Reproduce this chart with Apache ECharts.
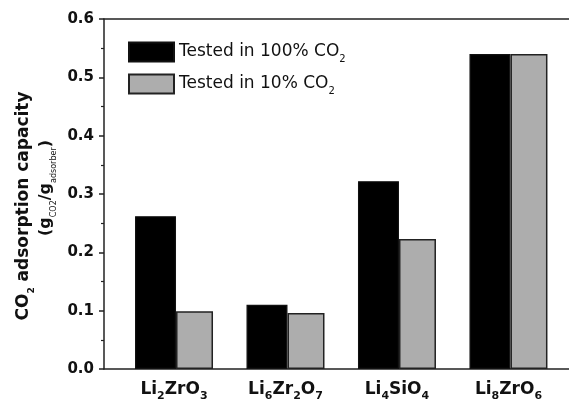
<!DOCTYPE html>
<html>
<head>
<meta charset="utf-8">
<script src="https://cdn.jsdelivr.net/npm/echarts@6/dist/echarts.min.js"></script>
<style>html,body{margin:0;padding:0;background:#fff}#c{width:569px;height:401px}</style>
</head>
<body>
<div id="c"></div>
<script>
// Data
const categories = ['Li{s|2}ZrO{s|3}', 'Li{s|6}Zr{s|2}O{s|7}', 'Li{s|4}SiO{s|4}', 'Li{s|8}ZrO{s|6}'];
const categoryPositions = [1, 2, 3, 4];
const tested100 = [0.262, 0.110, 0.322, 0.540];
const tested10 = [0.099, 0.096, 0.223, 0.540];
const seriesNames = ['Tested in 100% CO{s|2}', 'Tested in 10% CO{s|2}'];
const yTicks = [0, 0.1, 0.2, 0.3, 0.4, 0.5, 0.6];

const FONT = 'DejaVu Sans';
const chart = echarts.init(document.getElementById('c'), null, {renderer: 'canvas'});

const catRich = {
  m: {fontFamily: FONT, fontWeight: 'bold', fontSize: 17, color: '#111', lineHeight: 20},
  s: {fontFamily: FONT, fontWeight: 'bold', fontSize: 11, color: '#111', lineHeight: 11, padding: [13, 0, 0, 0]}
};
function catLabel(v) {
  const i = categoryPositions.indexOf(Math.round(v));
  if (i < 0) return '';
  return categories[i].replace(/(^|\})([^{}]+)(?=\{|$)/g, (m0, a, b) => a + '{m|' + b + '}');
}

const legendRich = {
  m: {fontFamily: FONT, fontSize: 17, color: '#111', lineHeight: 19},
  s: {fontFamily: FONT, fontSize: 10, color: '#111', lineHeight: 10, padding: [14, 0, 0, 0]}
};

const option = {
  animation: false,
  backgroundColor: '#fff',
  grid: {left: 104, top: 19, right: 0, bottom: 32, containLabel: false, outerBoundsMode: 'none'},
  legend: {
    orient: 'vertical', left: 128, top: 40, padding: 0,
    itemWidth: 45, itemHeight: 19, itemGap: 8,
    icon: 'rect',
    data: seriesNames,
    formatter: n => n.replace(/^([^{]+)/, '{m|$1}'),
    textStyle: {rich: legendRich, fontFamily: FONT, fontSize: 17, color: '#111'}
  },
  xAxis: [{
    type: 'value', min: 0.372, max: 4.543,
    axisLine: {show: true, lineStyle: {color: '#222', width: 1.5}},
    axisTick: {show: false},
    splitLine: {show: false},
    axisLabel: {
      customValues: categoryPositions,
      formatter: catLabel,
      margin: 11,
      rich: catRich
    }
  }, {
    type: 'value', position: 'top', min: 0.372, max: 4.543,
    axisLine: {show: true, lineStyle: {color: '#222', width: 1.5}},
    axisTick: {show: false}, axisLabel: {show: false}, splitLine: {show: false}
  }],
  yAxis: {
    type: 'value', min: 0, max: 0.6, interval: 0.1,
    axisLine: {show: true, lineStyle: {color: '#222', width: 1.5}},
    axisTick: {show: true, inside: false, length: 5, lineStyle: {color: '#222', width: 1.5}},
    minorTick: {show: true, splitNumber: 2, length: 3, lineStyle: {color: '#222', width: 1.2}},
    splitLine: {show: false},
    axisLabel: {
      margin: 10,
      fontFamily: FONT, fontWeight: 'bold', fontSize: 15, color: '#111',
      formatter: v => v.toFixed(1)
    }
  },
  series: [{
    name: seriesNames[0], type: 'bar', barWidth: 41, barGap: '0%',
    itemStyle: {color: '#000', borderColor: '#111', borderWidth: 1.2},
    data: tested100.map((v, i) => [categoryPositions[i], v])
  }, {
    name: seriesNames[1], type: 'bar', barWidth: 37, barGap: '0%',
    itemStyle: {color: '#adadad', borderColor: '#222', borderWidth: 1.5},
    data: tested10.map((v, i) => [categoryPositions[i], v])
  }],
  graphic: [{
    type: 'text', x: 24, y: 206, rotation: Math.PI / 2,
    style: {
      text: '{m|CO}{s|2}{m| adsorption capacity}',
      align: 'center', verticalAlign: 'middle',
      rich: {
        m: {fontFamily: FONT, fontWeight: 'bold', fontSize: 17, fill: '#111', lineHeight: 20},
        s: {fontFamily: FONT, fontWeight: 'bold', fontSize: 9, fill: '#111', lineHeight: 9, padding: [15, 0, 0, 0]}
      }
    }
  }, {
    type: 'text', x: 46, y: 188, rotation: Math.PI / 2,
    style: {
      text: '{m|(g}{s|CO2}{m|/g}{s|adsorber}{m|)}',
      align: 'center', verticalAlign: 'middle',
      rich: {
        m: {fontFamily: FONT, fontWeight: 'bold', fontSize: 16, fill: '#111', lineHeight: 19},
        s: {fontFamily: FONT, fontSize: 8, fill: '#111', lineHeight: 8, padding: [15, 0, 0, 0]}
      }
    }
  }]
};
chart.setOption(option);
</script>
</body>
</html>
